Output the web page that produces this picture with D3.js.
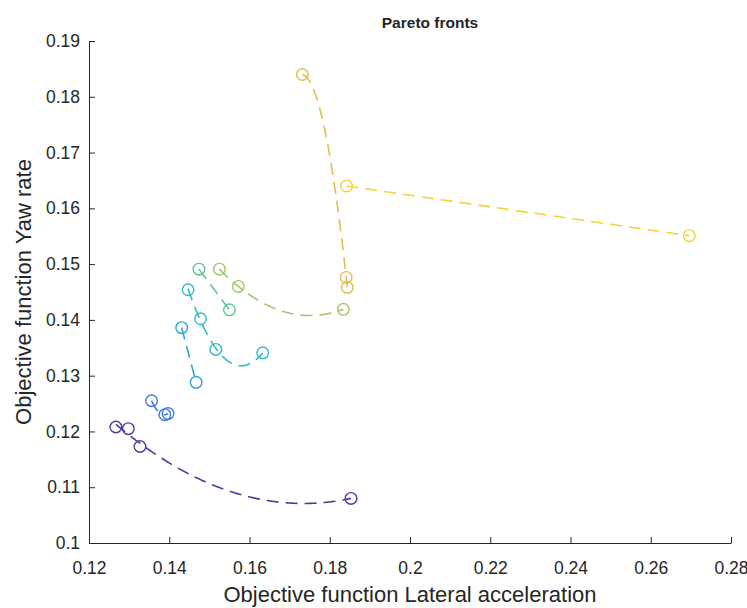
<!DOCTYPE html>
<html>
<head>
<meta charset="utf-8">
<script src="https://cdn.jsdelivr.net/npm/d3@7"></script>
<style>
  body { margin: 0; background: #fff; }
  text { font-family: "Liberation Sans", Arial, Helvetica, sans-serif; fill: #262626; }
</style>
</head>
<body>
<svg id="chart" width="747" height="608"></svg>
<script>
// Pareto fronts: lateral-acceleration objective (x) vs yaw-rate objective (y)
const front1X = [0.1267, 0.1298, 0.1327, 0.1853];
const front1Y = [0.1208, 0.1205, 0.1173, 0.1080];
const front2X = [0.1356, 0.1389, 0.1397];
const front2Y = [0.1255, 0.1230, 0.1232];
const front3X = [0.1431, 0.1467];
const front3Y = [0.1386, 0.1288];
const front4X = [0.1447, 0.1478, 0.1516, 0.1633];
const front4Y = [0.1454, 0.1402, 0.1347, 0.1341];
const front5X = [0.1474, 0.1550];
const front5Y = [0.1491, 0.1418];
const front6X = [0.1525, 0.1572, 0.1834];
const front6Y = [0.1491, 0.1460, 0.1419];
const front7X = [0.17316, 0.18410, 0.18437];
const front7Y = [0.18399, 0.14762, 0.14584];
const front8X = [0.1842, 0.2696];
const front8Y = [0.1640, 0.1551];

const frontColors = ["#4a3d9c", "#3b7ae8", "#2ba2df", "#2fbac9",
                     "#5ec598", "#a2c671", "#e5bd55", "#f7d23a"];

const xTicks = [0.12, 0.14, 0.16, 0.18, 0.2, 0.22, 0.24, 0.26, 0.28];
const yTicks = [0.1, 0.11, 0.12, 0.13, 0.14, 0.15, 0.16, 0.17, 0.18, 0.19];

const fronts = [
  [front1X, front1Y], [front2X, front2Y], [front3X, front3Y], [front4X, front4Y],
  [front5X, front5Y], [front6X, front6Y], [front7X, front7Y], [front8X, front8Y]
].map(([xs, ys], i) => ({
  color: frontColors[i],
  points: xs.map((x, j) => ({ x, y: ys[j] }))
}));

const svg = d3.select("#chart");
const margin = { left: 89, right: 16, top: 41, bottom: 65 };
const W = 747, H = 608;

const x = d3.scaleLinear().domain([0.12, 0.28]).range([margin.left, W - margin.right]);
const y = d3.scaleLinear().domain([0.1, 0.19]).range([H - margin.bottom, margin.top]);

// Least-squares polynomial (degree up to 2) through a front's points
function polyfit(pts) {
  const deg = Math.min(2, pts.length - 1);
  const n = deg + 1;
  const mx = d3.mean(pts, p => p.x);
  const A = Array.from({ length: n }, () => new Array(n + 1).fill(0));
  pts.forEach(p => {
    const u = (p.x - mx) * 100;
    const pw = d3.range(2 * n).map(k => Math.pow(u, k));
    for (let r = 0; r < n; r++) {
      for (let c = 0; c < n; c++) A[r][c] += pw[r + c];
      A[r][n] += pw[r] * p.y;
    }
  });
  for (let i = 0; i < n; i++) {
    let piv = i;
    for (let r = i + 1; r < n; r++) if (Math.abs(A[r][i]) > Math.abs(A[piv][i])) piv = r;
    [A[i], A[piv]] = [A[piv], A[i]];
    for (let r = 0; r < n; r++) {
      if (r === i) continue;
      const f = A[r][i] / A[i][i];
      for (let c = i; c <= n; c++) A[r][c] -= f * A[i][c];
    }
  }
  const coef = A.map((row, i) => row[n] / row[i]);
  return xv => {
    const u = (xv - mx) * 100;
    return coef.reduce((s, c, k) => s + c * Math.pow(u, k), 0);
  };
}

const line = d3.line().x(d => x(d.x)).y(d => y(d.y));

const plot = svg.append("g");
fronts.forEach(f => {
  const fit = polyfit(f.points);
  const [x0, x1] = d3.extent(f.points, p => p.x);
  const samples = d3.range(0, 201).map(k => {
    const xv = x0 + (x1 - x0) * k / 200;
    return { x: xv, y: fit(xv) };
  });
  plot.append("path")
    .datum(samples)
    .attr("d", line)
    .attr("fill", "none")
    .attr("stroke", f.color)
    .attr("stroke-width", 1.6)
    .attr("stroke-dasharray", "12,7");
  plot.selectAll(null)
    .data(f.points)
    .enter().append("circle")
    .attr("cx", d => x(d.x))
    .attr("cy", d => y(d.y))
    .attr("r", 5.8)
    .attr("fill", "none")
    .attr("stroke", f.color)
    .attr("stroke-width", 1.4);
});

// Axes (MATLAB style: ticks pointing inward, no box)
const xAxis = svg.append("g")
  .attr("transform", `translate(0,${H - margin.bottom})`)
  .call(d3.axisBottom(x).tickValues(xTicks).tickFormat(d3.format("~g"))
    .tickSizeInner(-6).tickSizeOuter(0).tickPadding(19));
const yAxis = svg.append("g")
  .attr("transform", `translate(${margin.left},0)`)
  .call(d3.axisLeft(y).tickValues(yTicks).tickFormat(d3.format("~g"))
    .tickSizeInner(-6).tickSizeOuter(0).tickPadding(9));

[xAxis, yAxis].forEach(g => {
  g.selectAll("path.domain").attr("stroke", "#262626").attr("stroke-width", 1);
  g.selectAll(".tick line").attr("stroke", "#262626").attr("stroke-width", 1);
  g.selectAll(".tick text")
    .attr("font-family", "Liberation Sans, Arial, Helvetica, sans-serif")
    .attr("font-size", 17.5)
    .attr("fill", "#262626");
});

svg.append("text")
  .attr("x", (margin.left + W - margin.right) / 2)
  .attr("y", 602)
  .attr("text-anchor", "middle")
  .attr("font-size", 22)
  .text("Objective function Lateral acceleration");

svg.append("text")
  .attr("transform", `translate(31,${(margin.top + H - margin.bottom) / 2}) rotate(-90)`)
  .attr("text-anchor", "middle")
  .attr("font-size", 22)
  .text("Objective function Yaw rate");

svg.append("text")
  .attr("x", 430)
  .attr("y", 28)
  .attr("text-anchor", "middle")
  .attr("font-size", 15.5)
  .attr("font-weight", "bold")
  .text("Pareto fronts");
</script>
</body>
</html>
